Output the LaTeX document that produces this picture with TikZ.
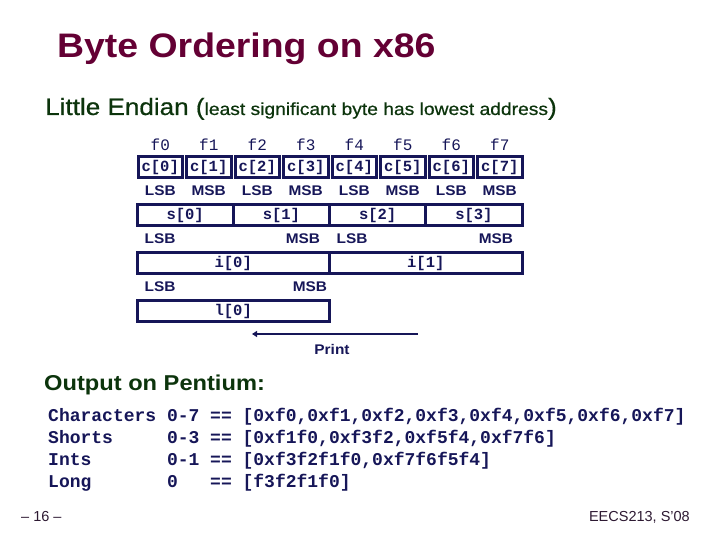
\documentclass[tikz,border=0pt]{standalone}
\usepackage{fontspec}
\setmainfont{Liberation Sans}
\newfontfamily\sw[FakeStretch=1.1]{Liberation Sans}
\newfontfamily\swb[FakeStretch=1.1,FakeBold=0.6]{Liberation Sans}
\newfontfamily\cour{Liberation Mono}
\usetikzlibrary{arrows.meta}
\definecolor{navy}{RGB}{22,22,88}
\definecolor{maroon}{RGB}{100,0,52}
\definecolor{dgreen}{RGB}{12,52,12}
\definecolor{foot}{RGB}{45,25,50}
\begin{document}
\begin{tikzpicture}[x=1pt,y=-1pt,
  every node/.style={inner sep=0pt},
  boxbase/.style={draw=navy,line width=3pt,minimum height=20.5pt,text=navy,
    font=\cour\bfseries\fontsize{15.5}{16}\selectfont},
  cbox/.style={boxbase,minimum width=44.5pt},
  sbox/.style={boxbase,minimum width=96.25pt},
  ibox/.style={boxbase,minimum width=192.5pt},
  flab/.style={text=navy,font=\cour\fontsize{16}{16}\selectfont},
  blab/.style={text=navy,font=\sw\bfseries\fontsize{14}{14}\selectfont},
  outl/.style={anchor=base west,text=navy,font=\cour\bfseries\fontsize{18}{18}\selectfont},
  footl/.style={anchor=base,text=foot,font=\fontsize{14.5}{15}\selectfont}]
\useasboundingbox (0,0) rectangle (720,540);
% title
\node[anchor=base west,text=maroon,font=\sw\bfseries\fontsize{34}{34}\selectfont] (title) at (57,58) {Byte Ordering on x86};
\node[anchor=base west,text=dgreen,font=\swb\fontsize{23.7}{24}\selectfont] (sub) at (45,115)
  {Little Endian (\fontsize{17.5}{18}\selectfont least significant byte has lowest address\fontsize{23.7}{24}\selectfont)};
% char row
\foreach \i in {0,...,7} {
  \node[flab] (f\i) at ({160.25+48.5*\i},145) {f\i};
  \node[cbox] (c\i) at ({160.25+48.5*\i},167) {c[\i]};
}
\foreach \i/\t in {0/LSB,1/MSB,2/LSB,3/MSB,4/LSB,5/MSB,6/LSB,7/MSB}
  \node[blab] (b\i) at ({160.25+48.5*\i},191) {\t};
% shorts
\foreach \k in {0,...,3}
  \node[sbox] (s\k) at ({185.125+96.25*\k},215) {s[\k]};
\node[blab] (il0) at (160,239) {LSB};
\node[blab] (im0) at (303,239) {MSB};
\node[blab] (il1) at (352,239) {LSB};
\node[blab] (im1) at (496,239) {MSB};
% ints
\node[ibox] (i0) at (233.25,263) {i[0]};
\node[ibox] (i1) at (425.75,263) {i[1]};
\node[blab] (ll0) at (160,287) {LSB};
\node[blab] (lm0) at (310,287) {MSB};
% long
\node[ibox] (l0) at (233.25,311) {l[0]};
% print arrow
\coordinate (pa) at (418,334);
\coordinate (pb) at (252,334);
\draw[navy,line width=2pt,-{Triangle[length=5pt,width=6pt]}] (pa) -- (pb);
\node[blab] (print) at (332,349) {Print};
% output
\node[anchor=base west,text=dgreen,font=\sw\bfseries\fontsize{21.5}{22}\selectfont] (outh) at (44,390) {Output on Pentium:};
\node[outl] (o1) at (48,421) {Characters~0-7~==~[0xf0,0xf1,0xf2,0xf3,0xf4,0xf5,0xf6,0xf7]};
\node[outl] (o2) at (48,443) {Shorts~~~~~0-3~==~[0xf1f0,0xf3f2,0xf5f4,0xf7f6]};
\node[outl] (o3) at (48,465) {Ints~~~~~~~0-1~==~[0xf3f2f1f0,0xf7f6f5f4]};
\node[outl] (o4) at (48,487) {Long~~~~~~~0~~~==~[f3f2f1f0]};
% footer
\node[footl,anchor=base west] (pg) at (21,521) {– 16 –};
\node[footl,anchor=base east] (ft) at (690,521) {EECS213, S’08};
\end{tikzpicture}
\end{document}
